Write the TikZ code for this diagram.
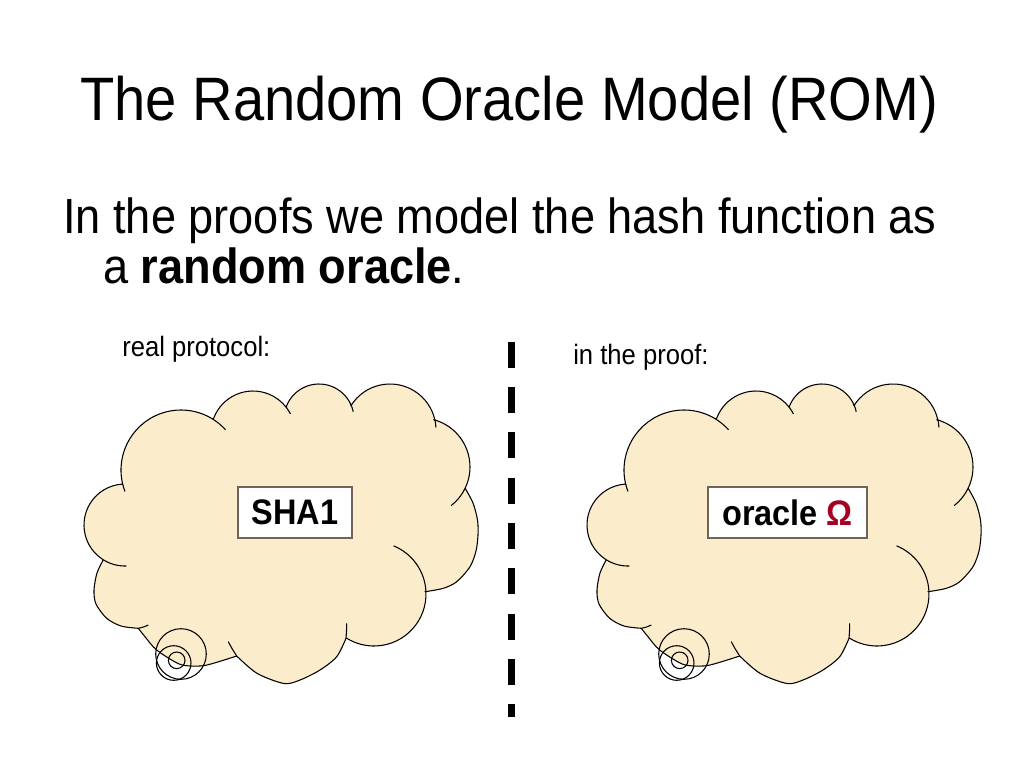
\documentclass[tikz,border=0pt]{standalone}
\usepackage{fontspec}
\setmainfont{Liberation Sans}[FakeStretch=0.915]
\usetikzlibrary{calc}
\definecolor{cloudfill}{RGB}{251,236,204}
\definecolor{omegared}{RGB}{165,0,33}
\definecolor{boxline}{RGB}{110,100,90}
\newcommand{\mycloud}{%
\path[cloudline]
    ($(125,525)+(122:41)$) arc[start angle=122, end angle=266, radius=41]
 -- ($(181,470)+(166:60)$) arc[start angle=166, end angle=302, radius=60]
 -- ($(253,433)+(201:42)$) arc[start angle=201, end angle=323, radius=42]
 -- ($(319,419)+(201:35)$) arc[start angle=201, end angle=335, radius=35]
 -- ($(390,430)+(212:46)$) arc[start angle=212, end angle=347, radius=46]
 -- ($(421,467)+(285:49)$) arc[start angle=285, end angle=385.5, radius=49]
 -- plot[smooth] coordinates {(465,488) (473,503) (477.5,520) (478,535) (476,551) (470,566.7) (456.7,581.7) (443.3,588.3) (425,591.7)}
 -- ($(374,594)+(-2.6:52)$) arc[start angle=-2.6, end angle=122.3, radius=52]
 -- plot[smooth] coordinates {(346,638.3) (336.7,656.7) (320,670) (300,680) (284,683.5) (257,673.3) (236.7,656)}
 -- plot[smooth] coordinates {(236.7,656) (213.3,663.3) (200,666) (180,664.3) (156.7,650) (145,636.7) (138.3,628.3)}
 -- plot[smooth] coordinates {(138.3,628.3) (121,626) (106.7,618.3) (96,604) (94,590) (97,573) (103.3,559.8)}
 -- cycle;
\draw[tail] ($(125,525)+(122:41)$) arc[start angle=122, end angle=88, radius=41];
\draw[tail] ($(181,470)+(166:60)$) arc[start angle=166, end angle=159, radius=60];
\draw[tail] ($(181,470)+(302:60)$) arc[start angle=302, end angle=318, radius=60];
\draw[tail] ($(253,433)+(323:42)$) arc[start angle=323, end angle=333, radius=42];
\draw[tail] ($(319,419)+(335:35)$) arc[start angle=335, end angle=348, radius=35];
\draw[tail] ($(390,430)+(347:46)$) arc[start angle=347, end angle=357, radius=46];
\draw[tail] ($(421,467)+(25.5:49)$) arc[start angle=25.5, end angle=52, radius=49];
\draw[tail] ($(374,594)+(-2.6:52)$) arc[start angle=-2.6, end angle=-68, radius=52];
\draw[tail] plot[smooth] coordinates {(346,638.3) (346.5,631) (346.7,623.3)};
\draw[tail] plot[smooth] coordinates {(236.7,656) (232,648.5) (228.3,641.7)};
\draw[tail] plot[smooth] coordinates {(138.3,628.3) (143.5,627) (148.3,625)};
\draw[tail] (181,654) circle[radius=25.3];
\draw[tail] (173.7,663) circle[radius=17.3];
\draw[tail] (176.7,660.3) circle[radius=8.3];
}
\begin{document}
\begin{tikzpicture}[x=0.75pt,y=-0.75pt,
  cloudline/.style={draw=black, line width=0.8pt, fill=cloudfill, line join=round},
  tail/.style={draw=black, line width=0.8pt},
  txt/.style={anchor=base west, inner sep=0pt},
  hashbox/.style={draw=boxline, line width=0.8pt, fill=white, minimum height=38.25pt, inner sep=0pt, font=\fontsize{26.6}{30}\selectfont\bfseries},
  divider/.style={line width=5pt, dash pattern=on 19.5pt off 14.5pt}]
\useasboundingbox (0,0) rectangle (1024,768);
\fill[white] (0,0) rectangle (1024,768);
\node[txt, font=\fontsize{46}{50}\selectfont] (title) at (80,120) {The Random Oracle Model (ROM)};
\node[txt, font=\fontsize{37}{40}\selectfont] (line1) at (63,233) {In the proofs we model the hash function as};
\node[txt, font=\fontsize{37}{40}\selectfont] (line2) at (103,283) {a \textbf{random oracle}.};
\node[txt, font=\fontsize{21}{24}\selectfont] (lblreal) at (122,356) {real protocol:};
\node[txt, font=\fontsize{21}{24}\selectfont] (lblproof) at (573,364) {in the proof:};
\coordinate (dtop) at (511.7,341.7);
\coordinate (dbot) at (511.7,716.7);
\draw[divider] (dtop) -- (dbot);
\mycloud
\begin{scope}[shift={(503,0)}]
\mycloud
\end{scope}
\node[hashbox, minimum width=85.5pt] (sha) at (295,512.5) {SHA1};
\node[hashbox, minimum width=119.25pt] (oracle) at (787.5,512.5) {oracle {\color{omegared}Ω}};
\end{tikzpicture}
\end{document}
